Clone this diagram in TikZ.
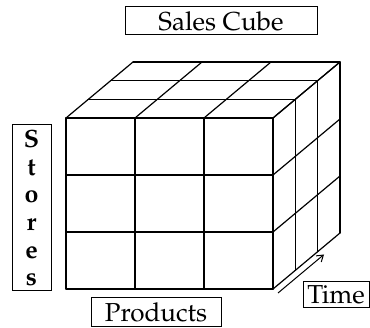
\documentclass[tikz,border=0pt]{standalone}
\usepackage[T1]{fontenc}
\renewcommand{\rmdefault}{ppl}
\usetikzlibrary{arrows.meta}
\tikzset{
  lbl/.style={draw, line width=1pt, inner sep=0pt, font=\fontsize{26}{30}\selectfont},
  gridline/.style={line width=1.2pt, line cap=round, line join=round},
  timearrow/.style={line width=1pt, -{Straight Barb[length=6pt,width=8pt]}}
}
\begin{document}
\begin{tikzpicture}[x=1pt,y=-1pt]
\useasboundingbox (0,0) rectangle (370,328);
% labels
\node[lbl, minimum width=192pt, minimum height=28pt] (title) at (221,21) {Sales Cube};
\node[lbl, minimum width=130pt, minimum height=29pt] (prod) at (156,312.5) {Products};
\node[lbl, minimum width=66pt, minimum height=26pt] (time) at (336,295) {Time};
\node[lbl, align=center, minimum width=39pt, minimum height=166pt,
      font=\fontsize{25}{27.6}\selectfont\bfseries] (stores) at (31.5,208) {S\\t\\o\\r\\e\\s};
% cube
\foreach \k in {0,...,3} {
  \draw[gridline] ({66+22.333*\k},{118-18.667*\k}) -- ({273+22.333*\k},{118-18.667*\k});
  \draw[gridline] ({273+22.333*\k},{118-18.667*\k}) -- ({273+22.333*\k},{289-18.667*\k});
}
\foreach \i in {0,...,3} {
  \draw[gridline] ({66+69*\i},118) -- ({66+69*\i+67},62);
  \draw[gridline] ({66+69*\i},118) -- ({66+69*\i},289);
  \draw[gridline] (66,{118+57*\i}) -- (273,{118+57*\i});
  \draw[gridline] (273,{118+57*\i}) -- (340,{118+57*\i-56});
}
% time arrow
\coordinate (tA) at (278,293);
\coordinate (tB) at (324,254.5);
\draw[timearrow] (tA) -- (tB);
\end{tikzpicture}
\end{document}
